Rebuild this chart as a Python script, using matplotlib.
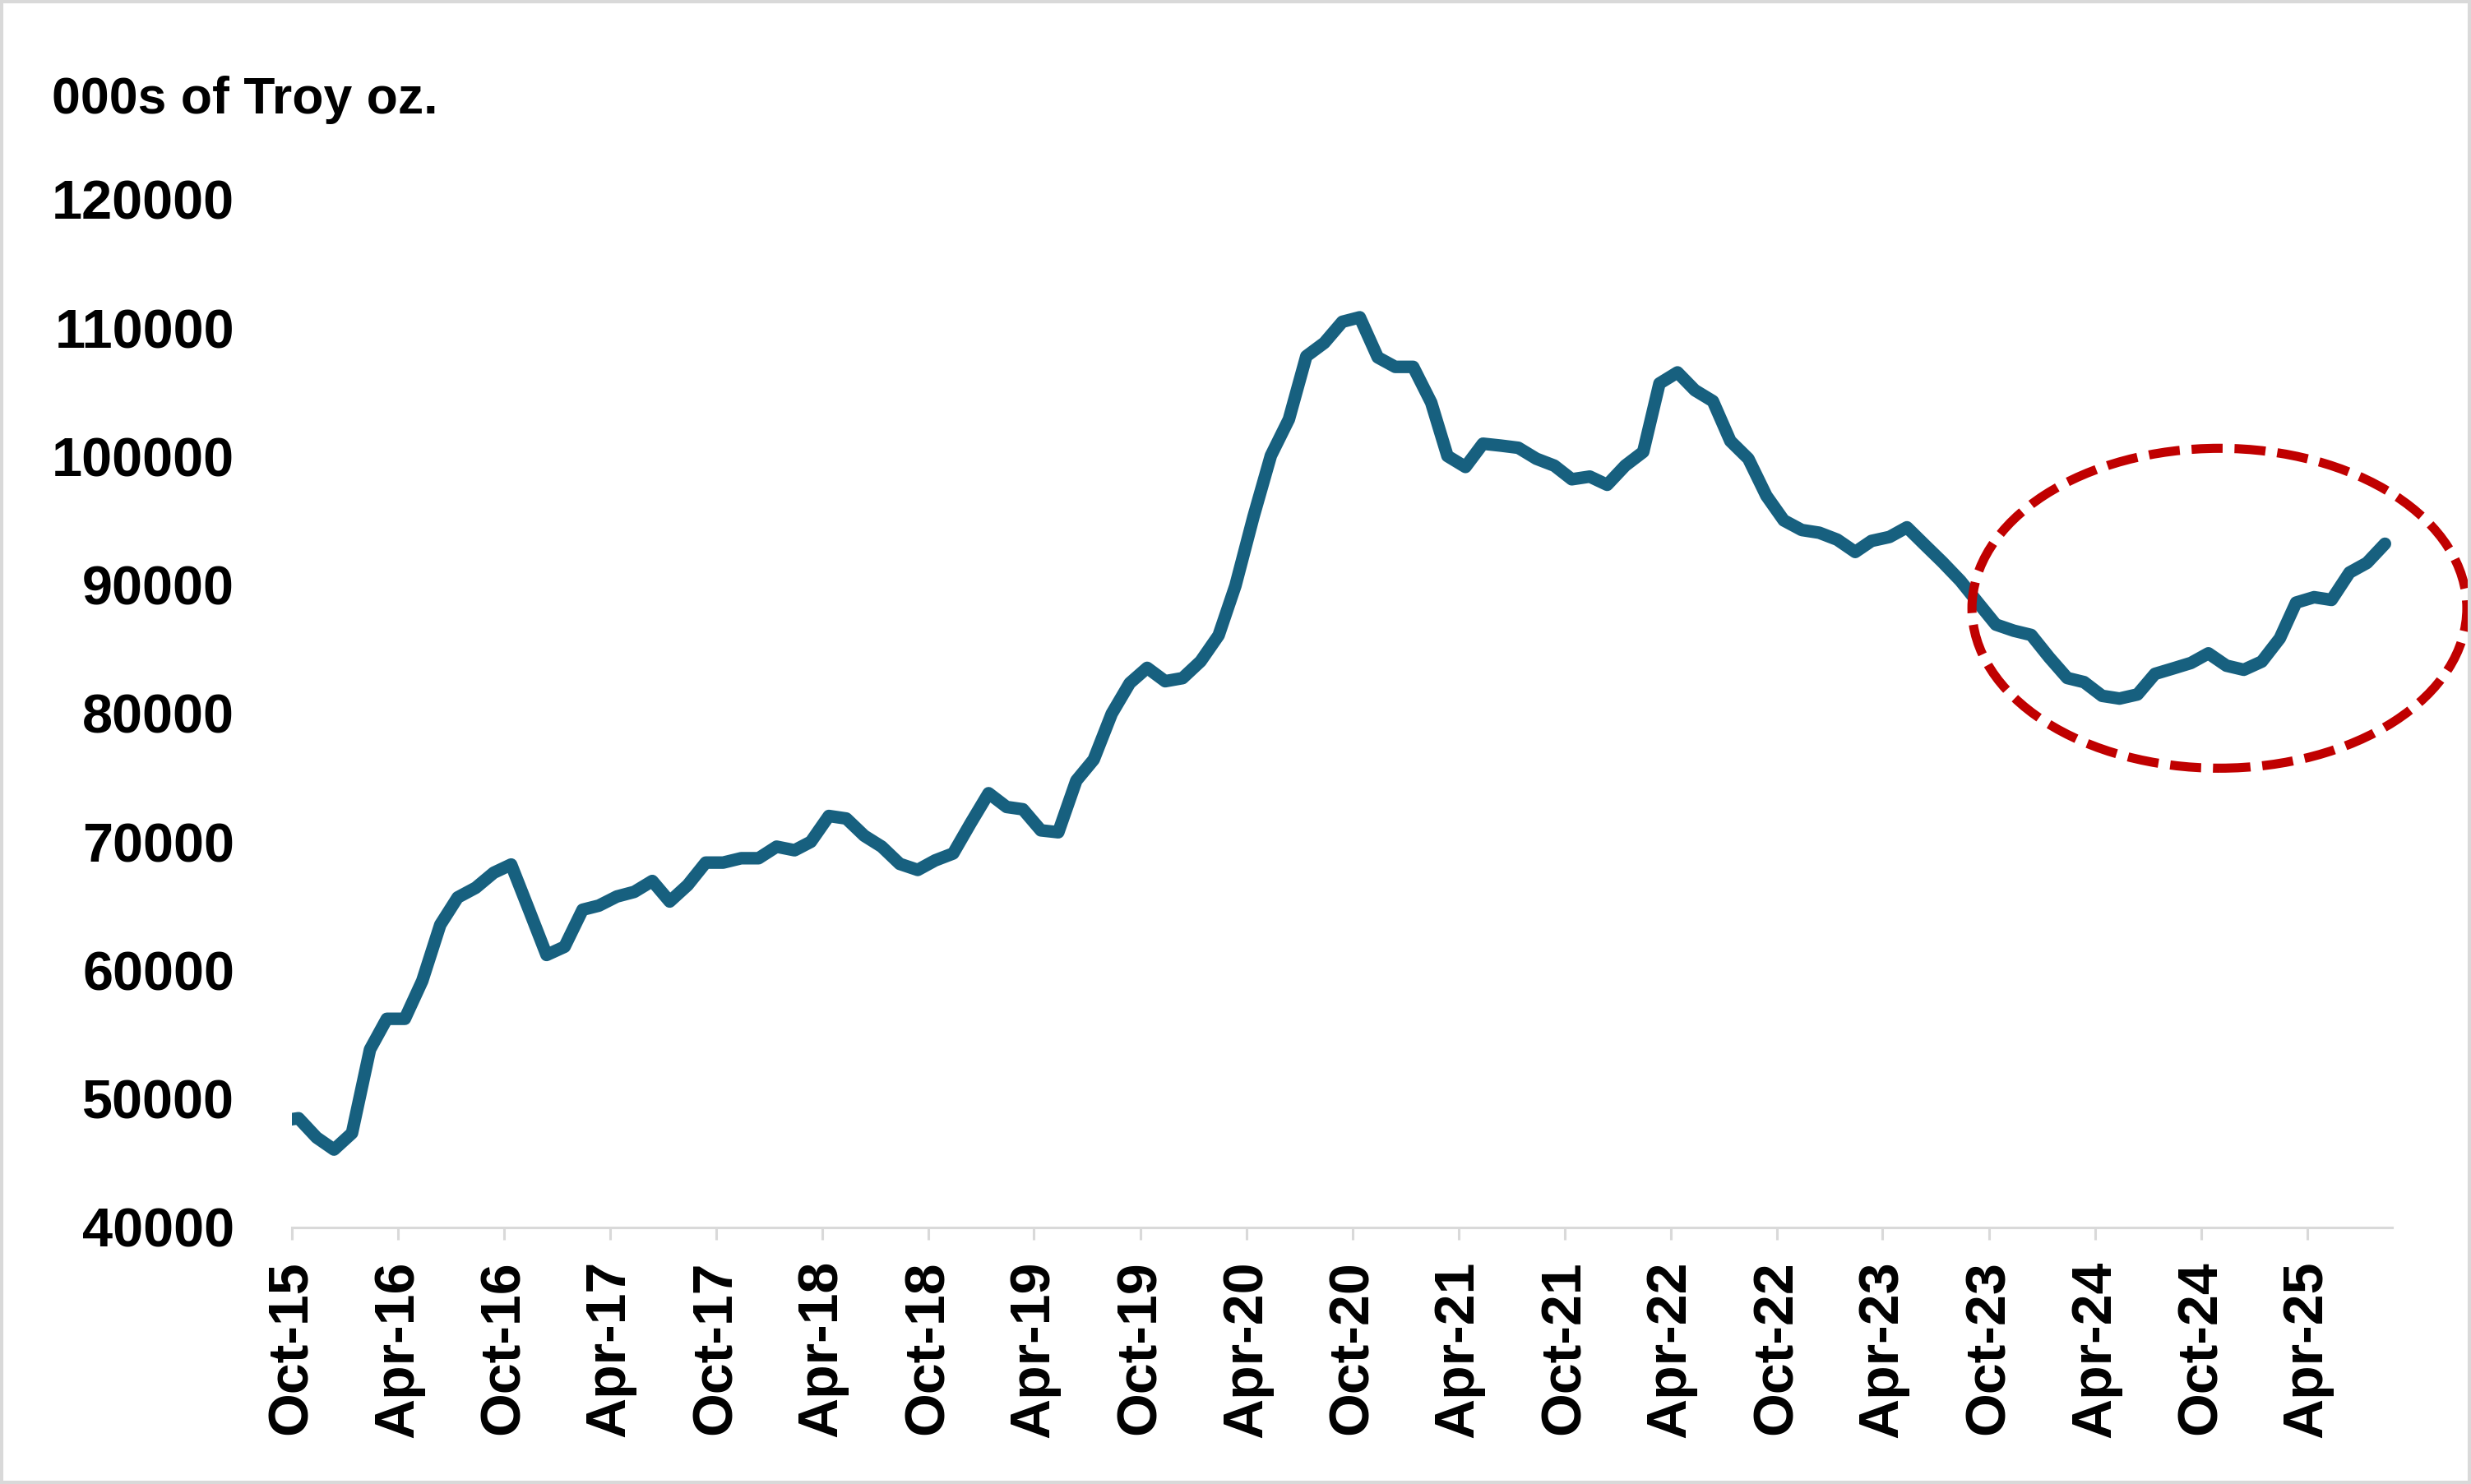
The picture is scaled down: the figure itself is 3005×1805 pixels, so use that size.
import matplotlib
matplotlib.use("Agg")
import matplotlib.pyplot as plt
import matplotlib.dates as mdates
from matplotlib.patches import Ellipse, Rectangle
import pandas as pd

# ---- data (monthly, Sep-15 .. Aug-25), 000s of Troy oz. ----
months = pd.date_range("2015-09-01", "2025-08-01", freq="MS")
values = [
    48300,                                                       # Sep-15
    48500, 47000, 46060, 47340, 53850, 56240, 56240, 59190, 63560, 65690, 66440, 67610,  # Oct-15..Sep-16
    68250, 64690, 61210, 61850, 64730, 65050, 65760, 66120, 66970, 65370, 66650, 68400,  # Oct-16..Sep-17
    68400, 68740, 68740, 69640, 69360, 70020, 72030, 71830, 70490, 69640, 68300, 67830,  # Oct-17..Sep-18
    68570, 69110, 71460, 73800, 72730, 72550, 70910, 70760, 74780, 76420, 79990, 82370,  # Oct-18..Sep-19
    83560, 82520, 82760, 84070, 86090, 89960, 95320, 100080, 102910, 107820, 108860, 110500,  # Oct-19..Sep-20
    110850, 107730, 106990, 106990, 104210, 100050, 99200, 101010, 100860, 100690, 99840, 99300,  # Oct-20..Sep-21
    98240, 98450, 97810, 99300, 100370, 105700, 106560, 105170, 104320, 101220, 99840, 96960,  # Oct-21..Sep-22
    95040, 94290, 94080, 93540, 92580, 93440, 93750, 94500, 93120, 91800, 90340, 88600,  # Oct-22..Sep-23
    86930, 86450, 86120, 84370, 82770, 82450, 81380, 81170, 81490, 83090, 83510, 83940,  # Oct-23..Sep-24
    84690, 83730, 83410, 84050, 85860, 88640, 89060, 88850, 90980, 91730, 93220,          # Oct-24..Aug-25
]
y_ticks = [40000, 50000, 60000, 70000, 80000, 90000, 100000, 110000, 120000]
y_label = "000s of Troy oz."

# highlight ellipse (annotation)
ell_center_date = pd.Timestamp("2024-11-01")
ell_center_val = 88200
ell_width_days = 852
ell_height_val = 24900

LINE_COLOR = "#17607F"
GRID_GREY = "#D9D9D9"
RED = "#C00000"

fam = ["Liberation Sans", "DejaVu Sans"]

fig = plt.figure(figsize=(30.05, 18.05), dpi=100)
ax = fig.add_axes([0.118, 0.1729, 0.968 - 0.118, 0.8654 - 0.1729])

x = months + pd.Timedelta(days=12)
ax.plot(x, values, color=LINE_COLOR, lw=11, solid_joinstyle="round",
        solid_capstyle="round")

ax.set_xlim(pd.Timestamp("2015-10-01"), pd.Timestamp("2025-08-25"))
ax.set_ylim(40000, 120000)

ax.xaxis.set_major_locator(mdates.MonthLocator(bymonth=[4, 10]))
ax.xaxis.set_major_formatter(mdates.DateFormatter("%b-%y"))
ax.tick_params(axis="x", length=11, width=2.2, color=GRID_GREY, pad=18)
for lab in ax.get_xticklabels():
    lab.set_rotation(90)
    lab.set_fontsize(49)
    lab.set_fontweight("bold")
    lab.set_family(fam)
    lab.set_ha("center")
    lab.set_va("top")

ax.set_yticks(y_ticks)
ax.set_yticklabels([str(v) for v in y_ticks])
ax.tick_params(axis="y", length=0, pad=50)
for lab in ax.get_yticklabels():
    lab.set_fontsize(48)
    lab.set_fontweight("bold")
    lab.set_family(fam)

for s in ["top", "right", "left"]:
    ax.spines[s].set_visible(False)
ax.spines["bottom"].set_color(GRID_GREY)
ax.spines["bottom"].set_linewidth(2.2)

ell = Ellipse((mdates.date2num(ell_center_date), ell_center_val),
              width=ell_width_days, height=ell_height_val,
              fill=False, edgecolor=RED, lw=8, linestyle=(0, (3.4, 1.3)),
              clip_on=False, zorder=5)
ell.set_capstyle("butt")
ax.add_patch(ell)

fig.text(0.021, 0.9235, y_label, fontsize=45, fontweight="bold",
         family=fam, ha="left", va="baseline")

fig.patches.append(Rectangle((0, 0), 1, 1, transform=fig.transFigure,
                             fill=False, edgecolor=GRID_GREY, lw=5.8))

fig.savefig("out.png", dpi=100)
